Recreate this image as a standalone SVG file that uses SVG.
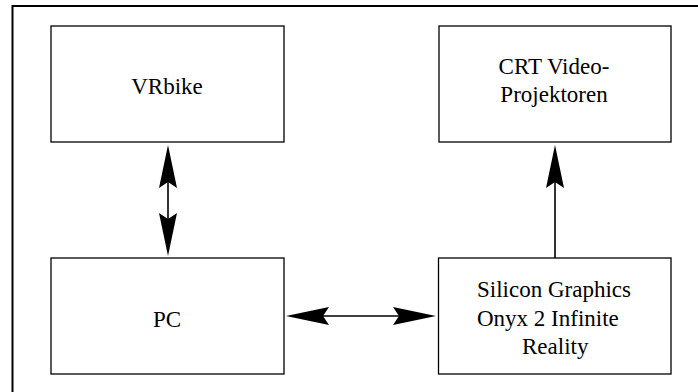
<svg xmlns="http://www.w3.org/2000/svg" width="698" height="392" viewBox="0 0 698 392">
<style>
.box{fill:#fff;stroke:#000;stroke-width:1.3}
.lbl{font-family:'Liberation Serif','Times New Roman',Times,serif;font-size:23px;fill:#000}
.c{text-anchor:middle}
.conn{stroke:#000;stroke-width:1.6;fill:none}
</style>
<defs>
<marker id="ah" markerUnits="userSpaceOnUse" markerWidth="50" markerHeight="24" viewBox="-8 -12 50 24" refX="0" refY="0" orient="auto-start-reverse" overflow="visible">
<path d="M37,0 L-6,-9 L0,0 L-6,9 Z" fill="#000"/>
</marker>
</defs>
<rect x="0" y="0" width="698" height="392" fill="#fff"/>
<rect id="frame" x="12.5" y="6" width="720" height="420" fill="none" stroke="#000" stroke-width="2"/>
<g id="vrbike">
<rect class="box" x="51" y="26" width="233" height="116"/>
<text class="lbl c" font-family="Liberation Serif, serif" x="167" y="94">VRbike</text>
</g>
<g id="crt">
<rect class="box" x="439" y="26" width="232" height="116"/>
<text class="lbl c" font-family="Liberation Serif, serif" x="554" y="74">CRT Video-</text>
<text class="lbl c" font-family="Liberation Serif, serif" x="554" y="102">Projektoren</text>
</g>
<g id="pc">
<rect class="box" x="51" y="258" width="233" height="116"/>
<text class="lbl c" font-family="Liberation Serif, serif" x="167" y="327">PC</text>
</g>
<g id="sgi">
<rect class="box" x="438.5" y="258" width="232.5" height="116"/>
<text class="lbl" font-family="Liberation Serif, serif" x="477" y="297">Silicon Graphics</text>
<text class="lbl" font-family="Liberation Serif, serif" x="477" y="326">Onyx 2 Infinite</text>
<text class="lbl" font-family="Liberation Serif, serif" x="522" y="354">Reality</text>
</g>
<g id="connectors">
<line class="conn" x1="168" y1="182" x2="168" y2="219" marker-start="url(#ah)" marker-end="url(#ah)"/>
<line class="conn" x1="323" y1="316" x2="399" y2="316" marker-start="url(#ah)" marker-end="url(#ah)"/>
<line class="conn" x1="555" y1="258" x2="555" y2="182" marker-end="url(#ah)"/>
</g>
</svg>
